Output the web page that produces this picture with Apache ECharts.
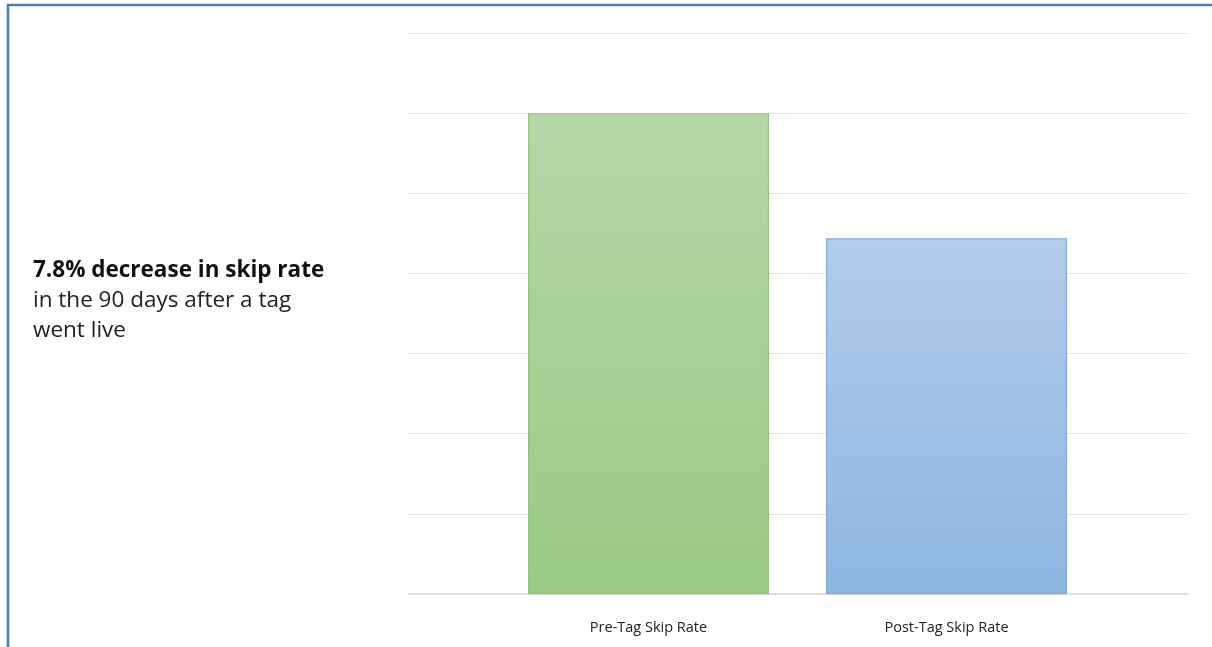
<!DOCTYPE html>
<html>
<head>
<meta charset="utf-8">
<script src="https://cdn.jsdelivr.net/npm/echarts@6/dist/echarts.min.js"></script>
<style>
html,body{margin:0;padding:0;background:#fff;}
#chart{width:1212px;height:647px;}
</style>
</head>
<body>
<div id="chart"></div>
<script>
const categories = ['Pre-Tag Skip Rate', 'Post-Tag Skip Rate'];
const values = [6.0, 4.44];
const headline = '7.8% decrease in skip rate';
const subLines = ['in the 90 days after a tag', 'went live'];
const yTicks = [0, 1, 2, 3, 4, 5, 6, 7];

const barColors = [
  { top: '#b6d6a9', bottom: '#9bc986', border: '#92c27c' },
  { top: '#b4cbea', bottom: '#8db6e2', border: '#7ea9db' }
];

const chart = echarts.init(document.getElementById('chart'));
const option = {
  backgroundColor: '#ffffff',
  animation: false,
  title: {
    left: 33, top: 256, padding: 0,
    text: '{b|' + headline + '}\n{n|' + subLines.join('}\n{n|') + '}',
    textStyle: {
      fontWeight: 'normal',
      rich: {
        b: { fontFamily: 'Open Sans', fontWeight: 'bold', fontSize: 22.5, color: '#111', lineHeight: 30 },
        n: { fontFamily: 'Open Sans', fontWeight: 'normal', fontSize: 22.5, color: '#222', lineHeight: 30 }
      }
    }
  },
  graphic: [{
    type: 'rect',
    shape: { x: 8, y: 5, width: 1300, height: 700 },
    style: { fill: 'none', stroke: '#4a7ebb', lineWidth: 2.5 },
    silent: true
  }],
  grid: [
    { left: 499.5, width: 596, top: 33, bottom: 53 },
    { left: 408, width: 780, top: 33, bottom: 53 }
  ],
  xAxis: [
    {
      type: 'category', gridIndex: 0, data: categories,
      axisLine: { show: false }, axisTick: { show: false },
      axisLabel: { fontFamily: 'Open Sans', fontSize: 14.5, color: '#222', margin: 26 }
    },
    {
      type: 'category', gridIndex: 1, data: [''],
      axisLine: { show: true, lineStyle: { color: '#d9d9d9', width: 1.5 } },
      axisTick: { show: false }, axisLabel: { show: false }
    }
  ],
  yAxis: [
    {
      type: 'value', gridIndex: 0, min: yTicks[0], max: yTicks[yTicks.length - 1], interval: 1,
      splitLine: { show: false }, axisLabel: { show: false },
      axisLine: { show: false }, axisTick: { show: false }
    },
    {
      type: 'value', gridIndex: 1, min: yTicks[0], max: yTicks[yTicks.length - 1], interval: 1,
      splitLine: { show: true, lineStyle: { color: '#e3e3e3', width: 1 } },
      axisLabel: { show: false }, axisLine: { show: false }, axisTick: { show: false }
    }
  ],
  series: [
    {
      type: 'bar', xAxisIndex: 0, yAxisIndex: 0, barWidth: 241, z: 5,
      data: values.map((v, i) => ({
        value: v,
        itemStyle: {
          color: new echarts.graphic.LinearGradient(0, 0, 0, 1, [
            { offset: 0, color: barColors[i].top },
            { offset: 1, color: barColors[i].bottom }
          ]),
          borderColor: barColors[i].border,
          borderWidth: 1.2
        }
      }))
    }
  ]
};
chart.setOption(option);
</script>
</body>
</html>
